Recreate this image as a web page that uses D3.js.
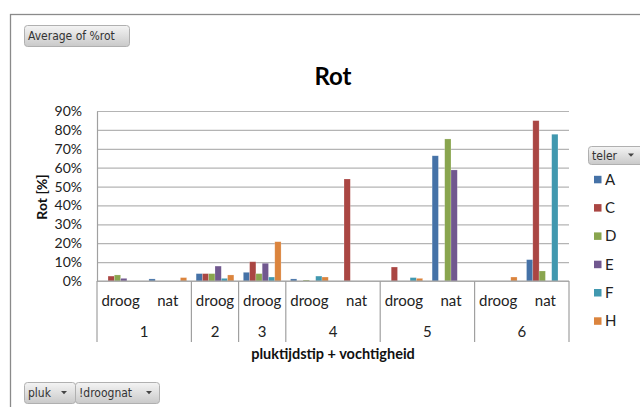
<!DOCTYPE html>
<html>
<head>
<meta charset="utf-8">
<script src="https://cdn.jsdelivr.net/npm/d3@7"></script>
<style>
  html, body { margin: 0; padding: 0; background: #fff; }
  svg { display: block; }
</style>
</head>
<body>
<svg id="chart" width="640" height="407"></svg>
<script>
// Pivot chart: average %rot per harvest moment (pluk) and humidity (droog/nat), per grower (teler)
const pluk   = ["1", "1", "2", "3", "4", "4", "5", "5", "6", "6"];
const vocht  = ["droog", "nat", "droog", "droog", "droog", "nat", "droog", "nat", "droog", "nat"];
const teler  = ["A", "C", "D", "E", "F", "H"];
const colors = ["#4572A7", "#AA4643", "#89A54E", "#71588F", "#4198AF", "#DB843D"];

// values in percent, null = no data for that combination
const valA = [null, 1.1, 3.9, 4.6, 1.1, null, null, 66.3, null, 11.3];
const valC = [2.6, null, 3.9, 10.2, null, 54.0, 7.4, null, null, 84.9];
const valD = [3.2, null, 3.9, 3.9, 0.5, null, null, 75.2, null, 5.3];
const valE = [1.4, null, 7.9, 9.4, null, null, null, 58.8, null, null];
const valF = [null, null, 1.4, 2.1, 2.6, null, 1.8, null, null, 77.7];
const valH = [null, 1.8, 3.2, 20.8, 2.1, null, 1.4, null, 2.1, null];

const yTicks = [0, 0.1, 0.2, 0.3, 0.4, 0.5, 0.6, 0.7, 0.8, 0.9];

const series = [valA, valC, valD, valE, valF, valH];
const font = "Lato, 'Open Sans', sans-serif";
const btnFont = "'DejaVu Sans Condensed', 'DejaVu Sans', sans-serif";

const svg = d3.select("#chart");

// gradient for the pivot field buttons
const defs = svg.append("defs");
const grad = defs.append("linearGradient").attr("id", "btnGrad")
  .attr("x1", 0).attr("y1", 0).attr("x2", 0).attr("y2", 1);
grad.append("stop").attr("offset", "0%").attr("stop-color", "#f4f4f4");
grad.append("stop").attr("offset", "100%").attr("stop-color", "#c9c9c9");

// chart area border
svg.append("rect")
  .attr("x", 10.5).attr("y", 14.5).attr("width", 660).attr("height", 420)
  .attr("fill", "#fff").attr("stroke", "#8a8a8a").attr("stroke-width", 1.3);

function button(x, y, w, h, label, arrowX) {
  const g = svg.append("g");
  g.append("rect")
    .attr("x", x + 0.5).attr("y", y + 0.5).attr("width", w).attr("height", h)
    .attr("rx", 3).attr("fill", "url(#btnGrad)").attr("stroke", "#b0b0b0");
  g.append("text")
    .attr("x", x + 4).attr("y", y + h / 2 + 4.5)
    .attr("font-family", btnFont).attr("font-size", 12).attr("fill", "#333")
    .text(label);
  if (arrowX != null) {
    const cy = y + h / 2;
    g.append("path")
      .attr("d", `M${arrowX - 3},${cy - 1.5} L${arrowX + 3},${cy - 1.5} L${arrowX},${cy + 1.8} Z`)
      .attr("fill", "#444");
  }
}

button(24, 25, 105, 21, "Average of %rot", null);
button(24, 382, 51, 21, "pluk", 64);
button(75, 382, 84, 21, "!droognat", 149);

// plot geometry
const plotL = 97, plotR = 569, plotT = 111, plotB = 281;

const x = d3.scaleBand().domain(d3.range(pluk.length)).range([plotL, plotR]).paddingInner(0).paddingOuter(0);
const xs = d3.scaleBand().domain(teler).range([0, x.bandwidth()]).paddingInner(0).paddingOuter(0.75);
const y = d3.scaleLinear().domain([0, 0.9]).range([plotB, plotT]);

// gridlines
svg.append("g")
  .attr("transform", `translate(${plotL},0)`)
  .call(d3.axisLeft(y).tickValues(yTicks).tickSize(-(plotR - plotL)).tickFormat(""))
  .call(g => g.select(".domain").remove())
  .call(g => g.selectAll("line").attr("stroke", "#b4b4b4").attr("stroke-width", 1.2));

// y axis
svg.append("g")
  .attr("transform", `translate(${plotL},0)`)
  .call(d3.axisLeft(y).tickValues(yTicks).tickSize(0).tickPadding(15).tickFormat(d3.format(".0%")))
  .call(g => g.select(".domain").attr("stroke", "#a0a0a0").attr("stroke-width", 1.2))
  .call(g => g.selectAll("text").attr("font-family", font).attr("font-size", 14).attr("fill", "#222"));

svg.append("text")
  .attr("transform", `translate(47,197) rotate(-90)`)
  .attr("text-anchor", "middle")
  .attr("font-family", font).attr("font-size", 14).attr("font-weight", "bold").attr("fill", "#111")
  .text("Rot [%]");

// bars
const barData = [];
series.forEach((vals, si) => {
  vals.forEach((v, ci) => {
    if (v != null) barData.push({ ci, t: teler[si], v: v / 100, c: colors[si] });
  });
});
svg.append("g").selectAll("rect").data(barData).join("rect")
  .attr("x", d => x(d.ci) + xs(d.t))
  .attr("y", d => y(d.v))
  .attr("width", xs.bandwidth())
  .attr("height", d => y(0) - y(d.v))
  .attr("fill", d => d.c)
  .attr("stroke", "rgba(255,255,255,0.35)").attr("stroke-width", 0.6);

// x axis (two levels)
const axisBottomY = 342;
svg.append("line")
  .attr("x1", plotL).attr("x2", plotR).attr("y1", plotB).attr("y2", plotB)
  .attr("stroke", "#a0a0a0").attr("stroke-width", 1.2);

svg.append("g")
  .attr("transform", `translate(0,${plotB})`)
  .call(d3.axisBottom(x).tickSize(0).tickPadding(14).tickFormat(i => vocht[i]))
  .call(g => g.select(".domain").remove())
  .call(g => g.selectAll("text").attr("font-family", font).attr("font-size", 15).attr("fill", "#222"));

// outer groups from consecutive equal pluk values
const groups = [];
pluk.forEach((p, i) => {
  const last = groups[groups.length - 1];
  if (last && last.label === p) last.end = i;
  else groups.push({ label: p, start: i, end: i });
});
const bounds = [x(0)].concat(groups.map(g => x(g.end) + x.bandwidth()));
svg.append("g").selectAll("line").data(bounds).join("line")
  .attr("x1", d => d).attr("x2", d => d)
  .attr("y1", plotB).attr("y2", axisBottomY)
  .attr("stroke", "#a0a0a0").attr("stroke-width", 1.2);
svg.append("g").selectAll("text").data(groups).join("text")
  .attr("x", g => (x(g.start) + x(g.end) + x.bandwidth()) / 2)
  .attr("y", 337)
  .attr("text-anchor", "middle")
  .attr("font-family", font).attr("font-size", 15).attr("fill", "#222")
  .text(g => g.label);

svg.append("text")
  .attr("x", (plotL + plotR) / 2).attr("y", 359)
  .attr("text-anchor", "middle")
  .attr("font-family", font).attr("font-size", 14.5).attr("font-weight", "bold").attr("fill", "#111")
  .text("pluktijdstip + vochtigheid");

// title
svg.append("text")
  .attr("x", (plotL + plotR) / 2).attr("y", 85)
  .attr("text-anchor", "middle")
  .attr("font-family", font).attr("font-size", 24).attr("font-weight", "bold").attr("fill", "#000")
  .text("Rot");

// legend
button(588, 146, 60, 18, "teler", 631);
const leg = svg.append("g").selectAll("g").data(teler).join("g")
  .attr("transform", (d, i) => `translate(594,${179.3 + i * 28.3})`);
leg.append("rect").attr("x", 0).attr("y", -3.5).attr("width", 7.5).attr("height", 7.5)
  .attr("fill", (d, i) => colors[i]);
leg.append("text").attr("x", 11).attr("y", 5.5)
  .attr("font-family", font).attr("font-size", 15).attr("fill", "#222")
  .text(d => d);
</script>
</body>
</html>
